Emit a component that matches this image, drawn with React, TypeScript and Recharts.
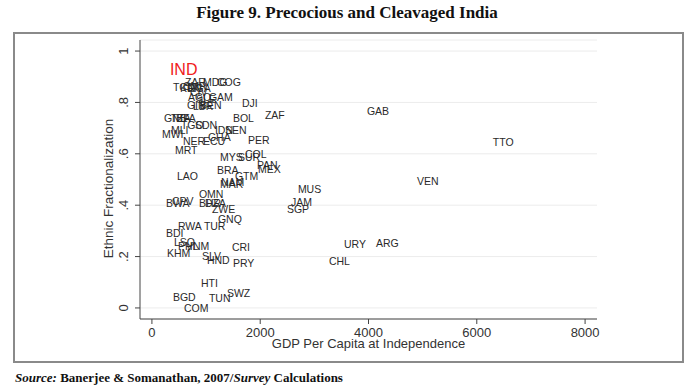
import { ScatterChart, Scatter, XAxis, YAxis, CartesianGrid } from "recharts";

// country codes, GDP per capita at independence, ethnic fractionalization
const countries = [
  "TCD", "KEN", "CMR", "ZAR", "NGA", "MDG", "COG", "CIV", "AGO", "SLE",
  "GAM", "GIN", "LBR", "BEN", "DJI", "GNB", "TZA", "BFA", "BOL", "ZAF",
  "GAB", "TGO", "SDN", "MLI", "MWI", "IDN", "SEN", "GHA", "NER", "ECU",
  "PER", "TTO", "MRT", "MYS", "SUR", "COL", "PAN", "MEX", "LAO", "BRA",
  "GTM", "MAR", "NAM", "VEN", "MUS", "OMN", "CPV", "BWA", "BHR", "DZA",
  "JAM", "SGP", "ZWE", "GNQ", "RWA", "TUR", "BDI", "LSO", "PHL", "VNM",
  "KHM", "CRI", "URY", "ARG", "SLV", "HND", "CHL", "PRY", "HTI", "SWZ",
  "BGD", "TUN", "COM",
];

const gdpAtIndependence = [
  351, 480, 536, 573, 628, 905, 1163, 665, 628, 776,
  1016, 609, 720, 850, 1625, 185, 314, 406, 1459, 2050,
  3934, 499, 757, 314, 148, 1127, 1311, 997, 536, 905,
  1736, 6260, 388, 1219, 1551, 1681, 1902, 1921, 425, 1163,
  1496, 1219, 1237, 4857, 2659, 831, 332, 222, 831, 942,
  2530, 2456, 1071, 1182, 443, 923, 222, 369, 443, 591,
  240, 1440, 3509, 4100, 886, 979, 3232, 1459, 868, 1348,
  351, 1016, 554,
];

const ethnicFractionalization = [
  0.86, 0.856, 0.864, 0.879, 0.856, 0.879, 0.879, 0.84, 0.821, 0.813,
  0.821, 0.79, 0.786, 0.79, 0.798, 0.739, 0.739, 0.739, 0.739, 0.751,
  0.767, 0.712, 0.712, 0.693, 0.677, 0.693, 0.693, 0.665, 0.65, 0.65,
  0.654, 0.646, 0.615, 0.588, 0.588, 0.599, 0.556, 0.541, 0.514, 0.537,
  0.514, 0.482, 0.49, 0.494, 0.463, 0.444, 0.416, 0.409, 0.409, 0.409,
  0.412, 0.385, 0.385, 0.346, 0.319, 0.319, 0.292, 0.257, 0.241, 0.241,
  0.214, 0.237, 0.249, 0.253, 0.202, 0.187, 0.183, 0.175, 0.097, 0.058,
  0.043, 0.039, 0,
];

const indiaCode = "IND";
const indiaGdp = 295;
const indiaFrac = 0.93;

const xTicks = [0, 2000, 4000, 6000, 8000];
const yTicks = [0, 0.2, 0.4, 0.6, 0.8, 1];
const yTickLabels = ["0", ".2", ".4", ".6", ".8", "1"];

const others = countries.map((code, i) => ({
  code,
  gdp: gdpAtIndependence[i],
  frac: ethnicFractionalization[i],
}));
const india = [{ code: indiaCode, gdp: indiaGdp, frac: indiaFrac }];

const sans = "'Liberation Sans', Arial, sans-serif";
const serif = "'Liberation Serif', 'Times New Roman', serif";

const CodeLabel = (props: any) => {
  const { cx, cy, payload, color, size } = props;
  return (
    <text x={cx + 2} y={cy} dominantBaseline="central" fontSize={size} fill={color} fontFamily={sans}>
      {payload.code}
    </text>
  );
};

const YTick = (props: any) => {
  const { x, y, payload } = props;
  const idx = yTicks.indexOf(payload.value);
  const cx = x - 9;
  return (
    <text
      x={cx}
      y={y}
      transform={`rotate(-90 ${cx} ${y})`}
      textAnchor="middle"
      dominantBaseline="central"
      fontSize={13}
      fill="#333"
      fontFamily={sans}
    >
      {idx >= 0 ? yTickLabels[idx] : payload.value}
    </text>
  );
};

const YTitle = (props: any) => {
  const vb = props.viewBox;
  const x = vb.x + 8;
  const y = vb.y + vb.height / 2 + 9;
  return (
    <text x={x} y={y} transform={`rotate(-90 ${x} ${y})`} textAnchor="middle" dominantBaseline="central"
      fontSize={13.5} fill="#333" fontFamily={sans}>
      Ethnic Fractionalization
    </text>
  );
};

const XTitle = (props: any) => {
  const vb = props.viewBox;
  return (
    <text x={vb.x + vb.width / 2} y={vb.y + 24} textAnchor="middle" dominantBaseline="central"
      fontSize={13} fill="#333" fontFamily={sans}>
      GDP Per Capita at Independence
    </text>
  );
};

export default function App() {
  return (
    <div style={{ position: "fixed", left: 0, top: 0, width: 694, height: 386, background: "#fff", overflow: "hidden" }}>
      <div
        style={{
          position: "absolute", left: 0, top: 3, width: 694, textAlign: "center",
          fontFamily: serif, fontWeight: "bold", fontSize: 17, color: "#111",
        }}
      >
        Figure 9. Precocious and Cleavaged India
      </div>
      <div
        style={{
          position: "absolute", left: 13, top: 32, width: 671, height: 331,
          border: "2px solid #8a8a8a", boxSizing: "border-box",
        }}
      />
      <div style={{ position: "absolute", left: 0, top: 0 }}>
        <ScatterChart width={694} height={386} margin={{ top: 40, right: 97, bottom: 37, left: 100 }}>
          <CartesianGrid vertical={false} stroke="#ececec" />
          <XAxis
            type="number"
            dataKey="gdp"
            domain={[-220, 8220]}
            ticks={xTicks}
            allowDataOverflow
            height={30}
            stroke="#444"
            tickSize={5}
            tickMargin={4}
            tick={{ fontSize: 13, fill: "#333", fontFamily: sans }}
            label={<XTitle />}
          />
          <YAxis
            type="number"
            dataKey="frac"
            domain={[-0.043, 1.043]}
            ticks={yTicks}
            allowDataOverflow
            width={40}
            stroke="#444"
            tickSize={5}
            tick={<YTick />}
            label={<YTitle />}
          />
          <Scatter
            data={others}
            isAnimationActive={false}
            shape={(p: any) => <CodeLabel {...p} color="#2a2a2a" size={10.5} />}
          />
          <Scatter
            data={india}
            isAnimationActive={false}
            shape={(p: any) => <CodeLabel {...p} color="#f02020" size={16} />}
          />
        </ScatterChart>
      </div>
      <div
        style={{
          position: "absolute", left: 15, top: 370, fontFamily: serif, fontWeight: "bold",
          fontSize: 13, color: "#111", whiteSpace: "nowrap",
        }}
      >
        <i>Source:</i> Banerjee &amp; Somanathan, 2007/<i>Survey</i> Calculations
      </div>
    </div>
  );
}
